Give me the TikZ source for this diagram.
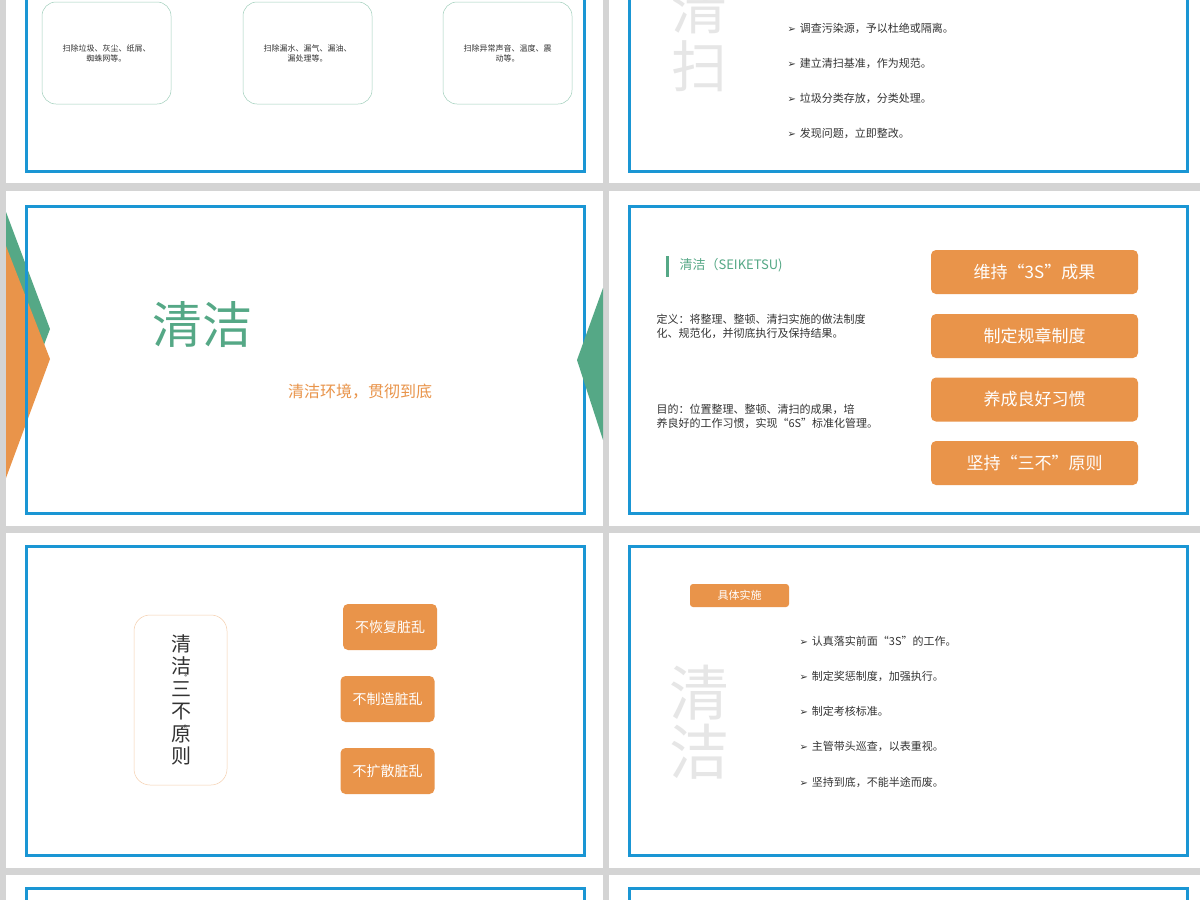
\documentclass[tikz,border=0pt]{standalone}
\usepackage{fontspec}
\setmainfont{Noto Sans CJK SC}
\newfontfamily\djv{DejaVu Sans}
\definecolor{bg}{HTML}{D4D4D4}
\definecolor{frame}{HTML}{1A96D4}
\definecolor{grn}{HTML}{55A886}
\definecolor{org}{HTML}{E9944A}
\definecolor{ghost}{HTML}{E6E6E6}
\definecolor{txt}{HTML}{333333}
\tikzset{
  bframe/.style={draw=frame,line width=3pt},
  tealbox/.style={draw=grn!55,line width=0.5pt,rounded corners=14pt},
  obox/.style={fill=org,rounded corners=5pt,text=white,align=center},
  bul/.style={anchor=west,text=txt,font=\fontsize{11}{11}\selectfont},
  small/.style={text=txt,align=center,font=\fontsize{8}{10}\selectfont},
  ghosttext/.style={text=ghost,font=\fontsize{56}{62}\selectfont,align=center},
  qmark/.style={text=txt,inner sep=0pt,font=\fontsize{9}{9}\selectfont},
}
\newcommand{\arr}{{\djv\fontsize{10}{10}\selectfont ➢}\hspace{4pt}}
\begin{document}
\begin{tikzpicture}[x=1pt,y=-1pt]
\useasboundingbox (0,0) rectangle (1200,900);
\fill[bg] (0,0) rectangle (1200,900);
% slides
\fill[white] (6,0) rectangle (603,183);
\fill[white] (609,0) rectangle (1200,183);
\fill[white] (6,191) rectangle (603,526);
\fill[white] (609,191) rectangle (1200,526);
\fill[white] (6,533) rectangle (603,868);
\fill[white] (609,533) rectangle (1200,868);
\fill[white] (6,875) rectangle (603,900);
\fill[white] (609,875) rectangle (1200,900);
% frames
\draw[bframe] (26,-10) rectangle (584,171);
\draw[bframe] (629,-10) rectangle (1187,171);
\draw[bframe] (629,206) rectangle (1187,513);
\draw[bframe] (26,546) rectangle (584,855);
\draw[bframe] (629,546) rectangle (1187,855);
\draw[bframe] (26,888) rectangle (584,910);
\draw[bframe] (629,888) rectangle (1187,910);
% triangles slide 1 left
\fill[grn] (6,212) -- (50,329) -- (6,445) -- cycle;
\fill[org] (6,246) -- (50,359) -- (6,478) -- cycle;
\draw[bframe] (26,206) rectangle (584,513);
\fill[grn] (603,288) -- (577,360) -- (603,440) -- cycle;

% row 0 left
\node[tealbox,minimum width=129pt,minimum height=102pt] (b1) at (106.5,53) {};
\node[small] (t1) at (b1) {扫除垃圾、灰尘、纸屑、\\蜘蛛网等。};
\node[tealbox,minimum width=129pt,minimum height=102pt] (b2) at (307.5,53) {};
\node[small] (t2) at (b2) {扫除漏水、漏气、漏油、\\漏处理等。};
\node[tealbox,minimum width=129pt,minimum height=102pt] (b3) at (507.5,53) {};
\node[small] (t3) at (b3) {扫除异常声音、温度、震\\动等。};
% row 0 right
\node[ghosttext] (g1) at (699,8) {清};
\node[ghosttext] (g2) at (699,66) {扫};
\node[bul] (r1) at (784,28) {\arr 调查污染源，予以杜绝或隔离。};
\node[bul] (r2) at (784,63) {\arr 建立清扫基准，作为规范。};
\node[bul] (r3) at (784,98) {\arr 垃圾分类存放，分类处理。};
\node[bul] (r4) at (784,133) {\arr 发现问题，立即整改。};

% row 1 left
\node[text=grn,font=\fontsize{50}{50}\selectfont] (title) at (202,325) {清洁};
\node[text=org,font=\fontsize{16}{16}\selectfont] (sub) at (360,392) {清洁环境，贯彻到底};

% row 1 right
\fill[grn] (666,256) rectangle (668.5,277);
\node[anchor=west,text=grn,font=\fontsize{13}{13}\selectfont] (h) at (676,265) {清洁（SEIKETSU)};
\node[anchor=west,text=txt,align=left,font=\fontsize{11}{14}\selectfont] (def) at (653,326) {定义：将整理、整顿、清扫实施的做法制度\\化、规范化，并彻底执行及保持结果。};
\node[anchor=west,text=txt,align=left,font=\fontsize{11}{14}\selectfont] (aim) at (653,416) {目的：位置整理、整顿、清扫的成果，培\\养良好的工作习惯，实现“6S”标准化管理。};
\node[obox,minimum width=207pt,minimum height=44pt,font=\fontsize{17}{17}\selectfont] (o1) at (1034.5,272) {维持“3S”成果};
\node[obox,minimum width=207pt,minimum height=44pt,font=\fontsize{17}{17}\selectfont] (o2) at (1034.5,336) {制定规章制度};
\node[obox,minimum width=207pt,minimum height=44pt,font=\fontsize{17}{17}\selectfont] (o3) at (1034.5,399.5) {养成良好习惯};
\node[obox,minimum width=207pt,minimum height=44pt,font=\fontsize{17}{17}\selectfont] (o4) at (1034.5,463) {坚持“三不”原则};

% row 2 left
\node[draw=org!45,line width=0.5pt,rounded corners=16pt,minimum width=93pt,minimum height=170pt] (vb) at (180.5,700) {};
\node[text=txt,align=center,font=\fontsize{20}{22.5}\selectfont] (vt) at (181,700) {清\\洁\\三\\不\\原\\则};
\node[qmark,rotate=90] (q1) at (188,678) {“};
\node[qmark,rotate=90] (q2) at (188,724) {”};
\node[obox,minimum width=94pt,minimum height=46pt,font=\fontsize{14}{14}\selectfont] (n1) at (390,627) {不恢复脏乱};
\node[obox,minimum width=94pt,minimum height=46pt,font=\fontsize{14}{14}\selectfont] (n2) at (387.5,699) {不制造脏乱};
\node[obox,minimum width=94pt,minimum height=46pt,font=\fontsize{14}{14}\selectfont] (n3) at (387.5,771) {不扩散脏乱};

% row 2 right
\node[obox,rounded corners=3pt,minimum width=99pt,minimum height=23pt,font=\fontsize{11}{11}\selectfont] (tag) at (739.5,595.5) {具体实施};
\node[ghosttext,font=\fontsize{60}{64}\selectfont] (g3) at (699,693) {清};
\node[ghosttext,font=\fontsize{60}{64}\selectfont] (g4) at (699,752) {洁};
\node[bul] (s1) at (796,641) {\arr 认真落实前面“3S”的工作。};
\node[bul] (s2) at (796,676) {\arr 制定奖惩制度，加强执行。};
\node[bul] (s3) at (796,711) {\arr 制定考核标准。};
\node[bul] (s4) at (796,746) {\arr 主管带头巡查，以表重视。};
\node[bul] (s5) at (796,782) {\arr 坚持到底，不能半途而废。};
\end{tikzpicture}
\end{document}
